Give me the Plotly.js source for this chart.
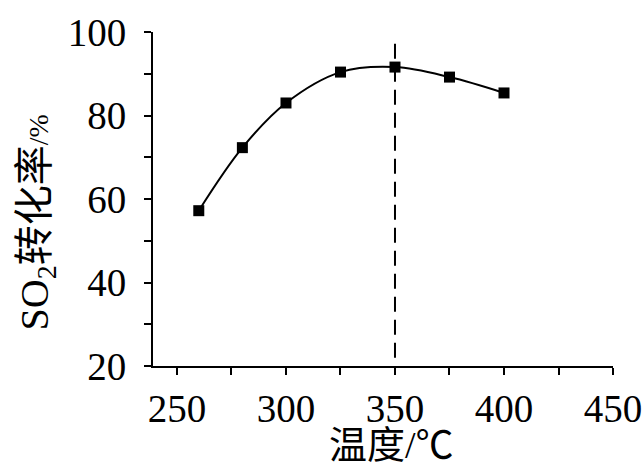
<!DOCTYPE html>
<html>
<head>
<meta charset="utf-8">
<script src="https://cdn.plot.ly/plotly-3.0.1.min.js"></script>
<style>html,body{margin:0;padding:0;background:#fff;}</style>
</head>
<body>
<div id="chart" style="width:644px;height:468px;"></div>
<script>
var temperature = [260, 280, 300, 325, 350, 375, 400];
var conversion = [57.2, 72.3, 83.0, 90.4, 91.6, 89.2, 85.4];
var xTickVals = [250, 300, 350, 400, 450];
var xMinorVals = [275, 325, 375, 425];
var yTickVals = [20, 40, 60, 80, 100];
var yMinorVals = [30, 50, 70, 90];
var markerX = 350;
var xTitle = '温度/℃';
var yTitle = 'SO<sub>2</sub>转化率<span style="font-size:28px">/%</span>';

var FONT = 'Liberation Serif, Times New Roman, Noto Sans CJK SC, serif';

var trace = {
  x: temperature,
  y: conversion,
  type: 'scatter',
  mode: 'lines+markers',
  line: {shape: 'spline', smoothing: 1, color: '#000', width: 2},
  marker: {symbol: 'square', size: 11, color: '#000'},
  hoverinfo: 'none'
};

function axis(range, vals, minorVals, standoff) {
  return {
    range: range,
    showline: true, linecolor: '#000', linewidth: 2,
    ticks: 'outside', ticklen: 7, tickwidth: 2, tickcolor: '#000',
    showgrid: false, zeroline: false,
    tickfont: {family: FONT, size: 39, color: '#000'},
    tickmode: 'array', tickvals: vals,
    ticklabelstandoff: standoff,
    minor: {tickmode: 'array', tickvals: minorVals, ticks: 'outside', ticklen: 7, tickwidth: 2, tickcolor: '#000', showgrid: false}
  };
}

var layout = {
  width: 644, height: 468,
  margin: {l: 153, r: 31, t: 32, b: 102},
  paper_bgcolor: '#fff', plot_bgcolor: '#fff',
  showlegend: false,
  xaxis: axis([239, 450], xTickVals, xMinorVals, 0),
  yaxis: axis([20, 100], yTickVals, yMinorVals, 10),
  shapes: [{
    type: 'line', xref: 'x', yref: 'y',
    x0: markerX, x1: markerX, y0: 22, y1: 98.5,
    line: {color: '#000', width: 2, dash: '15px,8px'}
  }],
  annotations: [
    {text: xTitle, xref: 'paper', yref: 'paper', x: 0.518, y: -0.3054,
     xanchor: 'center', yanchor: 'bottom', showarrow: false,
     font: {family: FONT, size: 38, color: '#000'}},
    {text: yTitle, xref: 'paper', yref: 'paper', x: -0.252, y: 0.43,
     xanchor: 'center', yanchor: 'middle', showarrow: false, textangle: -90,
     font: {family: FONT, size: 40, color: '#000'}}
  ]
};

Plotly.newPlot('chart', [trace], layout, {staticPlot: true, displayModeBar: false});
</script>
</body>
</html>
